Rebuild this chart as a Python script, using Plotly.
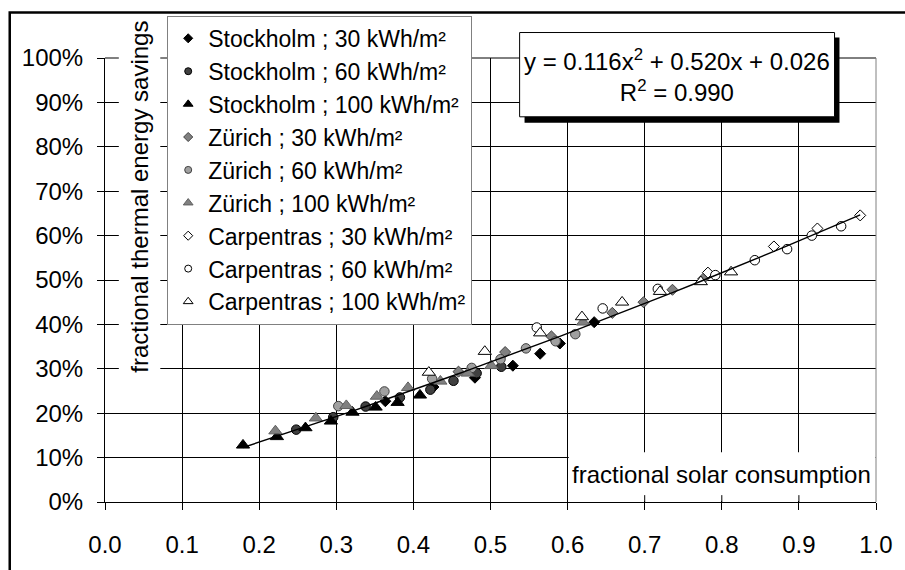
import plotly.graph_objects as go

# ---------------- data ----------------
sto30_x = [0.3636, 0.426, 0.4798, 0.529, 0.5644, 0.590, 0.6345]
sto30_y = [0.227, 0.259, 0.280, 0.307, 0.334, 0.357, 0.405]

sto60_x = [0.248, 0.296, 0.338, 0.3825, 0.422, 0.452, 0.482, 0.514]
sto60_y = [0.163, 0.191, 0.215, 0.2355, 0.253, 0.273, 0.290, 0.3046]

sto100_x = [0.179, 0.223, 0.260, 0.293, 0.321, 0.351, 0.3795, 0.4085]
sto100_y = [0.128, 0.147, 0.167, 0.182, 0.202, 0.2135, 0.224, 0.2406]

zur30_x = [0.4585, 0.519, 0.579, 0.658, 0.6985, 0.736, 0.776]
zur30_y = [0.2936, 0.3377, 0.373, 0.426, 0.450, 0.478, 0.503]

zur60_x = [0.3026, 0.3624, 0.4243, 0.4756, 0.513, 0.546, 0.5845, 0.610]
zur60_y = [0.216, 0.249, 0.2775, 0.302, 0.3216, 0.346, 0.362, 0.378]

zur100_x = [0.221, 0.2735, 0.313, 0.3526, 0.393, 0.435, 0.4705, 0.501, 0.620]
zur100_y = [0.160, 0.189, 0.217, 0.238, 0.2576, 0.272, 0.290, 0.307, 0.405]

car30_x = [0.782, 0.8676, 0.924, 0.9795]
car30_y = [0.5166, 0.5755, 0.616, 0.6455]

car60_x = [0.560, 0.6455, 0.717, 0.7916, 0.8428, 0.8847, 0.9167, 0.9548]
car60_y = [0.393, 0.436, 0.480, 0.511, 0.5446, 0.5695, 0.600, 0.621]

car100_x = [0.42, 0.4926, 0.5644, 0.6186, 0.6707, 0.7198, 0.7728, 0.812]
car100_y = [0.292, 0.339, 0.3806, 0.417, 0.450, 0.474, 0.496, 0.518]

series_names = [
    "Stockholm ; 30 kWh/m²", "Stockholm ; 60 kWh/m²", "Stockholm ; 100 kWh/m²",
    "Zürich ; 30 kWh/m²", "Zürich ; 60 kWh/m²", "Zürich ; 100 kWh/m²",
    "Carpentras ; 30 kWh/m²", "Carpentras ; 60 kWh/m²", "Carpentras ; 100 kWh/m²",
]

# trendline coefficients (shown on chart)
fit_a, fit_b, fit_c = 0.116, 0.520, 0.026
r_squared = 0.990

x_ticks = [0.0, 0.1, 0.2, 0.3, 0.4, 0.5, 0.6, 0.7, 0.8, 0.9, 1.0]
y_ticks = [0.0, 0.1, 0.2, 0.3, 0.4, 0.5, 0.6, 0.7, 0.8, 0.9, 1.0]

x_title = "fractional solar consumption"
y_title = "fractional thermal energy savings"

# ---------------- styles ----------------
FONT = "Liberation Sans, Arial, sans-serif"
LEG_FONT = 23
styles = [
    dict(symbol="diamond", color="#000000", line="#000000", size=8.5, lsize=7),
    dict(symbol="circle", color="#404040", line="#000000", size=9.5, lsize=7),
    dict(symbol="triangle-up", color="#000000", line="#000000", size=11.5, lsize=8.5),
    dict(symbol="diamond", color="#808080", line="#404040", size=8.5, lsize=7),
    dict(symbol="circle", color="#a0a0a0", line="#404040", size=9.5, lsize=7),
    dict(symbol="triangle-up", color="#808080", line="#606060", size=11.5, lsize=8.5),
    dict(symbol="diamond", color="#ffffff", line="#000000", size=8.5, lsize=7),
    dict(symbol="circle", color="#ffffff", line="#000000", size=9.5, lsize=7),
    dict(symbol="triangle-up", color="#ffffff", line="#000000", size=11.5, lsize=8.5),
]
data_x = [sto30_x, sto60_x, sto100_x, zur30_x, zur60_x, zur100_x, car30_x, car60_x, car100_x]
data_y = [sto30_y, sto60_y, sto100_y, zur30_y, zur60_y, zur100_y, car30_y, car60_y, car100_y]

fig = go.Figure()

# data traces
for xs, ys, st, nm in zip(data_x, data_y, styles, series_names):
    fig.add_trace(go.Scatter(
        x=xs, y=ys, mode="markers", name=nm, showlegend=False,
        marker=dict(symbol=st["symbol"], size=st["size"], color=st["color"],
                    line=dict(color=st["line"], width=1)),
    ))

# trendline from the displayed polynomial, evaluated at the data x values
all_x = sorted(v for xs in data_x for v in xs)
fit_y = [fit_a * v * v + fit_b * v + fit_c for v in all_x]
fig.add_trace(go.Scatter(x=all_x, y=fit_y, mode="lines", showlegend=False,
                         line=dict(color="#000000", width=1.4)))

# legend-only entries (smaller symbols, as in the reference legend)
for st, nm in zip(styles, series_names):
    fig.add_trace(go.Scatter(
        x=[None], y=[None], mode="markers", name=nm,
        marker=dict(symbol=st["symbol"], size=st["lsize"], color=st["color"],
                    line=dict(color=st["line"], width=1)),
    ))

W, H = 905, 570
ML, MR, MT, MB = 105, 19, 58, 59
PW, PH = W - ML - MR, H - MT - MB


def px_x(p):
    return (p - ML) / PW


def px_y(p):
    return (H - MB - p) / PH


shapes = []
# outer chart frame (extends past right / bottom edge)
shapes.append(dict(type="rect", xref="paper", yref="paper",
                   x0=px_x(8.5), x1=px_x(940), y0=px_y(620), y1=px_y(11.5),
                   line=dict(color="#000000", width=2.5), fillcolor="rgba(0,0,0,0)",
                   layer="above"))
# white box behind the y-axis title
shapes.append(dict(type="rect", xref="paper", yref="paper",
                   x0=px_x(119), x1=px_x(161), y0=px_y(386), y1=px_y(15),
                   line=dict(width=0), fillcolor="#ffffff", layer="above"))
# white box behind the x-axis title
shapes.append(dict(type="rect", xref="x", yref="y",
                   x0=0.6015, x1=0.9995, y0=0.002, y1=0.112,
                   line=dict(width=0), fillcolor="#ffffff", layer="above"))
# inner tick marks visible inside the x-title box
for t in x_ticks:
    if 0.6 < t < 1.0:
        shapes.append(dict(type="line", xref="x", yref="y", x0=t, x1=t,
                           y0=0, y1=7 / PH, line=dict(color="#000000", width=1),
                           layer="above"))
# plot-area border (right gray, top black)
shapes.append(dict(type="line", xref="paper", yref="paper", x0=1, x1=1, y0=0, y1=1,
                   line=dict(color="#808080", width=1), layer="above"))
shapes.append(dict(type="line", xref="paper", yref="paper", x0=0, x1=1, y0=1, y1=1,
                   line=dict(color="#000000", width=1), layer="below"))
# equation box shadow + box
shapes.append(dict(type="rect", xref="paper", yref="paper",
                   x0=px_x(530), x1=px_x(849), y0=px_y(124), y1=px_y(37),
                   line=dict(width=0), fillcolor="#000000", layer="above"))
shapes.append(dict(type="rect", xref="paper", yref="paper",
                   x0=px_x(525), x1=px_x(844), y0=px_y(118), y1=px_y(32),
                   line=dict(color="#000000", width=1), fillcolor="#ffffff", layer="above"))

annotations = [
    dict(text=f"y = {fit_a:.3f}x<sup>2</sup> + {fit_b:.3f}x + {fit_c:.3f}<br>R<sup>2</sup> = {r_squared:.3f}",
         xref="paper", yref="paper", x=px_x(684.5), y=px_y(76),
         xanchor="center", yanchor="middle", showarrow=False, align="center",
         font=dict(size=24, color="#000000", family=FONT)),
    dict(text=x_title, xref="paper", yref="paper", x=px_x(729.5), y=px_y(483),
         xanchor="center", yanchor="middle", showarrow=False,
         font=dict(size=24, color="#000000", family=FONT)),
    dict(text=y_title, xref="paper", yref="paper", x=px_x(140), y=px_y(200),
         xanchor="center", yanchor="middle", showarrow=False, textangle=-90,
         font=dict(size=24, color="#000000", family=FONT)),
]

fig.update_layout(
    width=W, height=H,
    margin=dict(l=ML, r=MR, t=MT, b=MB, pad=0),
    paper_bgcolor="#ffffff", plot_bgcolor="#ffffff",
    font=dict(family=FONT, size=24, color="#000000"),
    showlegend=True,
    legend=dict(x=px_x(168), y=px_y(15), xanchor="left", yanchor="top",
                bgcolor="#ffffff", bordercolor="#808080", borderwidth=1,
                font=dict(size=LEG_FONT, family=FONT, color="#000000"),
                tracegroupgap=0, itemclick=False, itemdoubleclick=False,
                maxheight=450),
    xaxis=dict(range=[0, 1], tickvals=x_ticks, ticktext=[f"{v:.1f}" for v in x_ticks],
               showgrid=True, gridcolor="#000000", gridwidth=1,
               ticks="outside", ticklen=7, tickcolor="#000000", tickwidth=1,
               showline=True, linecolor="#000000", linewidth=1, zeroline=False,
               ticklabelstandoff=14, tickfont=dict(size=24, family=FONT, color="#000000")),
    yaxis=dict(range=[0, 1], tickvals=y_ticks, ticktext=[f"{v*100:.0f}%" for v in y_ticks],
               showgrid=True, gridcolor="#000000", gridwidth=1,
               ticks="outside", ticklen=7, tickcolor="#000000", tickwidth=1,
               showline=True, linecolor="#000000", linewidth=1, zeroline=False,
               ticklabelstandoff=9, tickfont=dict(size=24, family=FONT, color="#000000")),
    shapes=shapes,
    annotations=annotations,
)

fig.write_html("out.html")
